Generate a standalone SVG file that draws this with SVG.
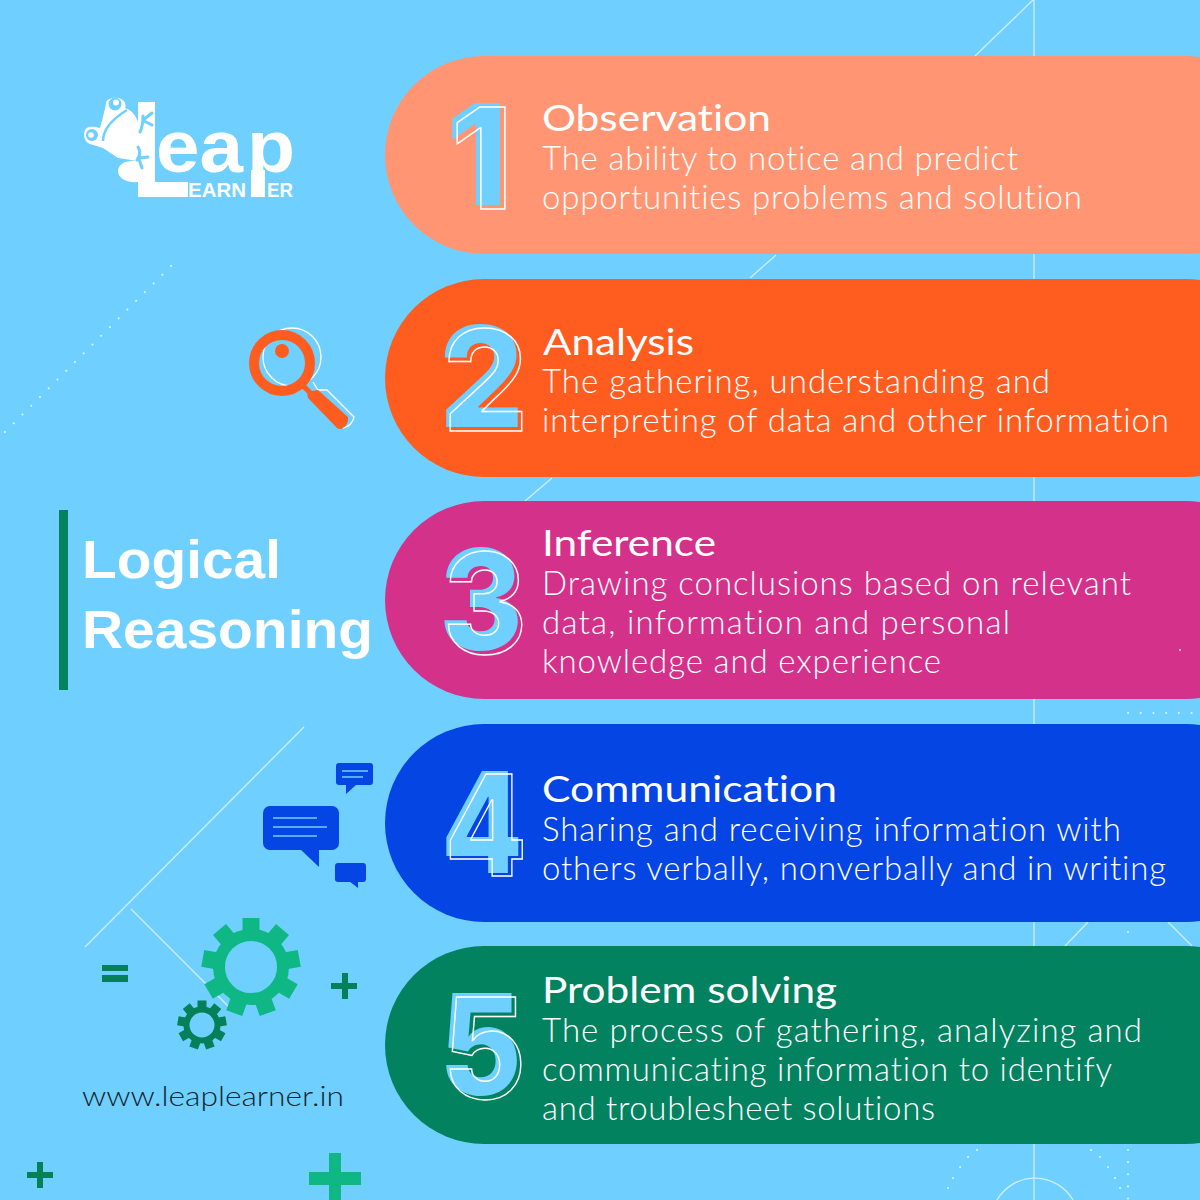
<svg xmlns="http://www.w3.org/2000/svg" width="1200" height="1200" viewBox="0 0 1200 1200">
<style>
text{font-variant-ligatures:none}
.t{font-family:"Lato","Liberation Sans",sans-serif;fill:#fff;font-size:33px;font-weight:300}
.h{font-size:37px;font-weight:400}
.n{font-family:"Inter","Liberation Sans",sans-serif;font-weight:800;font-size:140px}
.o{fill:none;stroke:#fff;stroke-width:1.5}
.f{fill:#6fd0ff}
.bg{stroke:#fff;stroke-width:1.3;fill:none;opacity:.65}
.dot{stroke:#fff;stroke-width:2;stroke-linecap:round;fill:none;opacity:.75}
.ln{stroke:#6fd0ff;stroke-width:1.5;fill:none}
.L{font-family:"Liberation Sans",sans-serif;font-weight:700}
.toe{fill:none;stroke:#6fd0ff;stroke-width:3;stroke-linecap:round}
</style>
<defs>
<g id="gearTeeth"><rect x="-8.500" y="-49" width="17" height="20"/></g>
<g id="gearTeethS"><rect x="-4.500" y="-24.500" width="9" height="10"/></g>
</defs>
<rect width="1200" height="1200" fill="#6fd0ff"/>
<g id="background">
<path class="bg" d="M975 56L1033 0M1034 0V1200M750 278L776 255M525 501L552 478M304 727L85 947M131 909L230 1008M1065 946L1088 922M1168 922L1192 946M997 1200A44 44 0 0 1 1073 1200"/>
<path class="dot" stroke-dasharray="0.1 12.26" d="M5 432L178 259"/>
<path class="dot" stroke-dasharray="0.1 12.6" d="M1128 713H1195"/>
<path class="dot" stroke-dasharray="0.1 12" d="M1128 932V944M1128 1150V1200"/>
<path class="dot" d="M977 1150h.1M968 1157h.1M960 1167h.1M953 1178h.1M948 1188h.1M1091 1150h.1M1100 1157h.1M1108 1167h.1M1115 1178h.1M1120 1188h.1"/>
</g>
<g id="card-1">
<rect x="385" y="56" width="900" height="198" rx="99" fill="#ff9572"/>
<text class="n f" x="446" y="205">1</text>
<text class="n o" x="451" y="209">1</text>
<text class="t h" x="542" y="131" textLength="229" lengthAdjust="spacingAndGlyphs">Observation</text>
<text class="t" x="542" y="170" textLength="476">The ability to notice and predict</text>
<text class="t" x="542" y="209" textLength="540">opportunities problems and solution</text>
</g>
<g id="card-2">
<rect x="385" y="279" width="900" height="198" rx="99" fill="#ff5c20"/>
<text class="n f" x="439" y="427" textLength="85" lengthAdjust="spacingAndGlyphs">2</text>
<text class="n o" x="443" y="431" textLength="85" lengthAdjust="spacingAndGlyphs">2</text>
<text class="t h" x="543" y="355" textLength="151" lengthAdjust="spacingAndGlyphs">Analysis</text>
<text class="t" x="542" y="393" textLength="508">The gathering, understanding and</text>
<text class="t" x="542" y="432" textLength="627">interpreting of data and other information</text>
</g>
<g id="card-3">
<rect x="385" y="501" width="900" height="198" rx="99" fill="#d4318a"/>
<text class="n f" x="439" y="650" textLength="84" lengthAdjust="spacingAndGlyphs">3</text>
<text class="n o" x="443" y="654" textLength="84" lengthAdjust="spacingAndGlyphs">3</text>
<text class="t h" x="542" y="556" textLength="174" lengthAdjust="spacingAndGlyphs">Inference</text>
<text class="t" x="542" y="595" textLength="589">Drawing conclusions based on relevant</text>
<text class="t" x="542" y="634" textLength="468">data, information and personal</text>
<text class="t" x="542" y="673" textLength="399">knowledge and experience</text>
<circle cx="1180" cy="650" r="1" fill="#fff" opacity=".8"/>
</g>
<g id="card-4">
<rect x="385" y="724" width="900" height="198" rx="99" fill="#0445e4"/>
<text class="n f" x="441" y="873" textLength="82" lengthAdjust="spacingAndGlyphs">4</text>
<text class="n o" x="445" y="876" textLength="82" lengthAdjust="spacingAndGlyphs">4</text>
<text class="t h" x="542" y="802" textLength="295" lengthAdjust="spacingAndGlyphs">Communication</text>
<text class="t" x="542" y="841" textLength="579">Sharing and receiving information with</text>
<text class="t" x="542" y="880" textLength="624">others verbally, nonverbally and in writing</text>
</g>
<g id="card-5">
<rect x="385" y="946" width="900" height="198" rx="99" fill="#02825f"/>
<text class="n f" x="439" y="1095" textLength="83" lengthAdjust="spacingAndGlyphs">5</text>
<text class="n o" x="443" y="1099" textLength="83" lengthAdjust="spacingAndGlyphs">5</text>
<text class="t h" x="542" y="1003" textLength="295" lengthAdjust="spacingAndGlyphs">Problem solving</text>
<text class="t" x="542" y="1042" textLength="600">The process of gathering, analyzing and</text>
<text class="t" x="542" y="1081" textLength="570">communicating information to identify</text>
<text class="t" x="542" y="1120" textLength="393">and troublesheet solutions</text>
</g>
<g id="title">
<rect x="59" y="510" width="9" height="180" fill="#02825f"/>
<text class="L" x="82" y="578" font-size="54" fill="#fff" textLength="199" lengthAdjust="spacingAndGlyphs">Logical</text>
<text class="L" x="82" y="648" font-size="54" fill="#fff" textLength="291" lengthAdjust="spacingAndGlyphs">Reasoning</text>
</g>
<g id="logo" fill="#fff">
<path d="M138 102H155V182H188V197H138V182C126 183 118 178 118 171C118 164 126 160 138 161L118 158L103 148L90 144C84 142 83 134 85 130C87 126 93 126 100 128L103 117L106 104C106 99 112 97 118 98C124 99 127 104 125 108C132 110 136 116 138 122Z"/>
<circle cx="115" cy="104" r="6.500" fill="#6fd0ff"/><circle cx="116" cy="102.500" r="3"/>
<circle cx="92" cy="135" r="6" fill="#6fd0ff"/><circle cx="91" cy="135" r="2.800"/>
<path d="M103 141C103 128 114 118 127 110" fill="none" stroke="#6fd0ff" stroke-width="2.500"/>
<path class="toe" d="M140 132C143 126 143 121 143 116M143 120L152 113M144 121L152 125M138 147C141 152 140 156 137 160M139 158L148 157M139 159L142 168"/>
<text class="L" x="156" y="172" font-size="75" textLength="87" lengthAdjust="spacingAndGlyphs">ea</text>
<text class="L" x="247" y="172" font-size="75" textLength="48" lengthAdjust="spacingAndGlyphs">p</text>
<rect x="251" y="170" width="14" height="27"/>
<text class="L" x="188" y="197" font-size="20" textLength="58" lengthAdjust="spacingAndGlyphs">EARN</text>
<text class="L" x="267" y="197" font-size="20" textLength="26" lengthAdjust="spacingAndGlyphs">ER</text>
</g>
<g id="magnifier">
<circle cx="292" cy="357" r="29" fill="none" stroke="#fff" stroke-width="1.300"/>
<path d="M313 382L318 390H327L354 417Q352 426 343 428" fill="none" stroke="#fff" stroke-width="1.300"/>
<circle cx="282" cy="363" r="28" fill="none" stroke="#ff5c20" stroke-width="10"/>
<circle cx="282" cy="351" r="7" fill="#ff5c20"/>
<path d="M304 383L312 391L318 390L348 417Q349 424 343 428Q340 430 337 428L308 398L307 393L300 387Z" fill="#ff5c20"/>
</g>
<g id="chat">
<rect x="336" y="763" width="37" height="22" rx="3" fill="#0445e4"/>
<path d="M346 785V794L356 785Z" fill="#0445e4"/>
<path class="ln" d="M342 771H368M342 777H363"/>
<rect x="263" y="806" width="76" height="44" rx="7" fill="#0445e4"/>
<path d="M300 849L319 867V849Z" fill="#0445e4"/>
<path class="ln" d="M273 818H317M273 827H327M273 836H317"/>
<rect x="335" y="863" width="31" height="19" rx="3" fill="#0445e4"/>
<path d="M349 881L358 888V881Z" fill="#0445e4"/>
</g>
<g id="gears">
<g fill="#0fb785" transform="translate(251 967)">
<circle r="32" fill="none" stroke="#0fb785" stroke-width="12"/>
<use href="#gearTeeth"/><use href="#gearTeeth" transform="rotate(40)"/><use href="#gearTeeth" transform="rotate(80)"/><use href="#gearTeeth" transform="rotate(120)"/><use href="#gearTeeth" transform="rotate(160)"/><use href="#gearTeeth" transform="rotate(200)"/><use href="#gearTeeth" transform="rotate(240)"/><use href="#gearTeeth" transform="rotate(280)"/><use href="#gearTeeth" transform="rotate(320)"/>
</g>
<g fill="#058058" transform="translate(202 1025)">
<circle r="15.500" fill="none" stroke="#058058" stroke-width="6"/>
<use href="#gearTeethS"/><use href="#gearTeethS" transform="rotate(40)"/><use href="#gearTeethS" transform="rotate(80)"/><use href="#gearTeethS" transform="rotate(120)"/><use href="#gearTeethS" transform="rotate(160)"/><use href="#gearTeethS" transform="rotate(200)"/><use href="#gearTeethS" transform="rotate(240)"/><use href="#gearTeethS" transform="rotate(280)"/><use href="#gearTeethS" transform="rotate(320)"/>
</g>
</g>
<g id="symbols" fill="#058058">
<path d="M102 965H128V971H102ZM102 975H128V982H102Z"/>
<path d="M331 983H357V989H331Z M342 973H348V999H342Z"/>
<path d="M27 1172H53V1178H27Z M37 1162H43V1188H37Z"/>
<path fill="#0fb785" d="M309 1172H361V1185H309Z M329 1153H341V1200H329Z"/>
</g>
<text x="82" y="1106" font-family="Lato,Liberation Sans,sans-serif" font-size="27" font-weight="300" fill="#14242c" textLength="262" lengthAdjust="spacingAndGlyphs">www.leaplearner.in</text>
</svg>
